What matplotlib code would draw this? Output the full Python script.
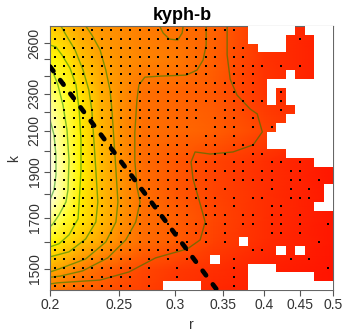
import numpy as np
import matplotlib
matplotlib.use("Agg")
import matplotlib.pyplot as plt
from matplotlib.colors import LinearSegmentedColormap, ListedColormap

# ---------- data ----------
r_lim = [0.2, 0.5]
k_lim = [1425, 2712]
n_r, n_k = 30, 30

# coarse surface (0 = red, 1 = white)
r_nodes = [0.2, 0.21, 0.22, 0.235, 0.25, 0.27, 0.3, 0.34, 0.4, 0.5]
k_nodes = [1425, 1500, 1600, 1700, 1800, 1950, 2100, 2300, 2500, 2712]
z_1425 = [0.36, 0.33, 0.30, 0.26, 0.22, 0.19, 0.15, 0.12, 0.09, 0.06]
z_1500 = [0.50, 0.45, 0.38, 0.31, 0.26, 0.21, 0.17, 0.14, 0.10, 0.06]
z_1600 = [0.74, 0.65, 0.58, 0.49, 0.40, 0.32, 0.27, 0.19, 0.13, 0.07]
z_1700 = [0.91, 0.80, 0.69, 0.56, 0.45, 0.33, 0.28, 0.21, 0.14, 0.07]
z_1800 = [1.00, 0.87, 0.71, 0.56, 0.45, 0.33, 0.26, 0.20, 0.14, 0.07]
z_1950 = [1.00, 0.87, 0.72, 0.56, 0.44, 0.32, 0.26, 0.20, 0.14, 0.07]
z_2100 = [0.97, 0.84, 0.71, 0.54, 0.43, 0.33, 0.31, 0.28, 0.20, 0.11]
z_2300 = [0.88, 0.79, 0.68, 0.52, 0.43, 0.33, 0.30, 0.26, 0.16, 0.08]
z_2500 = [0.76, 0.69, 0.58, 0.48, 0.43, 0.39, 0.36, 0.28, 0.15, 0.08]
z_2712 = [0.60, 0.55, 0.48, 0.44, 0.41, 0.37, 0.33, 0.29, 0.15, 0.08]

# contour lines (r, k)
cont_a_r = [0.2, 0.2026, 0.2039, 0.2039, 0.2026, 0.2]
cont_a_k = [2157, 2080, 1980, 1886, 1819, 1775]
cont_b_r = [0.2, 0.2019, 0.2052, 0.2086, 0.2113, 0.2127, 0.2120, 0.2106, 0.2059, 0.2019, 0.2]
cont_b_k = [2471, 2424, 2349, 2236, 2105, 1956, 1819, 1766, 1711, 1674, 1662]
cont_c_r = [0.2, 0.2039, 0.2079, 0.2134, 0.2176, 0.2198, 0.2211, 0.2211, 0.2198, 0.2190,
            0.2127, 0.2059, 0.2]
cont_c_k = [2589, 2577, 2527, 2447, 2349, 2210, 2054, 1909, 1766, 1695, 1630, 1595, 1583]
cont_d_r = [0.2072, 0.2106, 0.2169, 0.2226, 0.2268, 0.2290, 0.2305, 0.2320, 0.2335, 0.2320,
            0.2245, 0.2127, 0.2]
cont_d_k = [2712, 2654, 2558, 2436, 2320, 2210, 2054, 1909, 1766, 1682, 1614, 1564, 1545]
cont_e_r = [0.2245, 0.2290, 0.2352, 0.2396, 0.2429, 0.2444, 0.2460, 0.2476, 0.2492, 0.2476,
            0.2396, 0.2245, 0.2059, 0.2]
cont_e_k = [2712, 2654, 2558, 2436, 2320, 2210, 2054, 1909, 1766, 1682, 1602, 1537, 1500, 1489]
cont_f_r = [0.3316, 0.3316, 0.3283, 0.3220, 0.3109, 0.2852, 0.2719, 0.2667, 0.2650, 0.2632,
            0.2632, 0.2650, 0.2677, 0.2640, 0.2556, 0.2411, 0.2223, 0.2066, 0.2]
cont_f_k = [2712, 2589, 2496, 2436, 2406, 2400, 2394, 2349, 2264, 2090, 1956, 1832, 1766,
            1682, 1610, 1541, 1493, 1474, 1470]
cont_g_r = [0.3549, 0.3549, 0.3584, 0.3664, 0.3824, 0.3912, 0.3977, 0.3862, 0.3617, 0.3359,
            0.3199, 0.3158, 0.3178, 0.3252, 0.3305, 0.3252, 0.3119, 0.2815, 0.2582, 0.2352,
            0.2046, 0.2]
cont_g_k = [2712, 2527, 2382, 2292, 2215, 2189, 2095, 2030, 1995, 1985, 1995, 1947, 1868,
            1758, 1682, 1610, 1575, 1541, 1489, 1460, 1450, 1446]
cont_h_r = [0.2852, 0.2885, 0.2943, 0.3025, 0.3068, 0.3078]
cont_h_k = [2712, 2666, 2627, 2621, 2666, 2712]

# grid cells, top row first: '+' dot, '.' no dot, 'x' empty
cells = [
    "+++++++++++++++" + "+++++." + "xxxxx" + "." + "xxx",
    "+++++++++++++++" + "+++..." + "xxxx" + ".+." + "xx",
    "+++++++++++++++" + "+++.++" + "." + "xxx" + "..." + "xx",
    "+++++++++++++++" + "+++.++" + "...." + "..." + "xx",
    "+++++++++++++++" + "+++.+++" + "+.+.+." + "xx",
    "+++++++++++++++" + "++..+++..." + "x" + ".." + "xx",
    "+++++++++++++++" + "+++++++." + "xxxxxxx",
    "+++++++++++++++" + "+++++++." + "x+" + "xxxxx",
    "+++++++++++++++" + "++++++++" + "x+" + "xxxxx",
    "+++++++++++++++" + "+..+++...+." + "xxxx",
    "+++++++++++++++" + "+.+++.+..." + "xxxxx",
    "+++++++++++++++" + "..+++.+.+" + "xxxxxx",
    "+++++++++++++++" + ".++.+..." + "xxxxxxx",
    "+++++++++++++++" + ".++.+++." + "xxxxxxx",
    "+++++++++++++++" + "..++..++.." + "xxxxx",
    "+++++++++++++++" + "+++.+++.++.+." + "xx",
    "+++++++++++++++" + "++++++.++.++...",
    "+++++++++++++++" + "+++.+++++.++.+.",
    "+++++++++++++++" + "++.+....+.+.+." + "x",
    "+++++++++++++++" + "+++.+.++..+++." + "x",
    "+++++++++++++++" + ".++.+...++..." + "xx",
    "+++++++++++++++" + ".+++.++.++.+...",
    "+++++++++++++++" + "++.+.++.++.+..+",
    "+++++++++++++++" + "++.+....++.+...",
    "+++++++++++++++" + ".+.+.x.......+.",
    "+++++++++++++++" + "......++.x.x...",
    "+++++++++.+.+.+" + "..x.+.....+.+..",
    "+++++++++.+..+." + "....+.xxx.....+",
    "+++++++++.+..+." + "....+.xxxxxxx..",
    "+++++++++.+." + "xxxx" + "...+." + "xxxxxxxxx",
]

# dashed reference line
line_r = [0.2, 0.343]
line_k = [2457, 1427]

r_ticks = [0.2, 0.25, 0.3, 0.35, 0.4, 0.45, 0.5]
r_labels = ["0.2", "0.25", "0.3", "0.35", "0.4", "0.45", "0.5"]
k_ticks = [1500, 1600, 1700, 1800, 1900, 2000, 2100, 2200, 2300, 2400, 2500, 2600]
k_labels = ["1500", "", "1700", "", "1900", "", "2100", "", "2300", "", "", "2600"]

# ---------- figure ----------
plt.rcParams['font.family'] = ['Liberation Sans', 'DejaVu Sans']
fig = plt.figure(figsize=(3.43, 3.31), dpi=100)
ax = fig.add_axes([50 / 343, 41 / 331, 283 / 343, 264 / 331])
ax.set_xscale('log')
ax.set_yscale('log')

heat = LinearSegmentedColormap.from_list(
    'heat', [(0, '#ff0000'), (0.75, '#ffff00'), (1, '#ffffe8')])

z = np.array([z_1425, z_1500, z_1600, z_1700, z_1800, z_1950,
              z_2100, z_2300, z_2500, z_2712])
ax.pcolormesh(r_nodes, k_nodes, z, cmap=heat, vmin=0, vmax=1,
              shading='gouraud', zorder=1)

contours = [(cont_a_r, cont_a_k), (cont_b_r, cont_b_k), (cont_c_r, cont_c_k),
            (cont_d_r, cont_d_k), (cont_e_r, cont_e_k), (cont_f_r, cont_f_k),
            (cont_g_r, cont_g_k), (cont_h_r, cont_h_k)]
for cr, ck in contours:
    ax.plot(cr, ck, color='green', alpha=0.5, lw=1.0, zorder=2)

# empty cells and dots
r_edges = np.geomspace(r_lim[0], r_lim[1], n_r + 1)
k_edges = np.geomspace(k_lim[0], k_lim[1], n_k + 1)
grid = np.array([list(row) for row in cells])[::-1]   # bottom row first
empty = np.ma.masked_where(grid != 'x', np.ones(grid.shape))
ax.pcolormesh(r_edges, k_edges, empty, cmap=ListedColormap(['white']),
              zorder=3)

r_mid = np.sqrt(r_edges[:-1] * r_edges[1:])
k_mid = np.sqrt(k_edges[:-1] * k_edges[1:])
kk, rr = np.nonzero(grid == '+')
ax.plot(r_mid[rr], k_mid[kk], ls='none', marker='s', ms=1.5,
        mew=0, color='black', zorder=4)

ax.plot(line_r, line_k, color='black', lw=3.4, ls=(0, (1.2, 2.4)),
        dash_capstyle='round', zorder=5)

ax.set_xlim(r_lim)
ax.set_ylim(k_lim)
ax.xaxis.set_minor_locator(plt.NullLocator())
ax.yaxis.set_minor_locator(plt.NullLocator())
ax.set_xticks(r_ticks)
ax.set_xticklabels(r_labels)
ax.set_yticks(k_ticks)
ax.set_yticklabels(k_labels, rotation=90, va='center')
ax.tick_params(length=4, width=0.8, color='#555555', labelsize=10,
               labelcolor='#333333', pad=2)
for s in ax.spines.values():
    s.set_color('#666666')
    s.set_linewidth(0.8)

ax.set_xlabel('r', fontsize=10, color='#333333', labelpad=4)
ax.set_ylabel('k', fontsize=10, color='#333333', labelpad=5)
fig.text(182 / 343, 1 - 15 / 331, 'kyph-b', ha='center', va='center',
         fontsize=13, fontweight='bold')

fig.savefig('out.png', dpi=100)
